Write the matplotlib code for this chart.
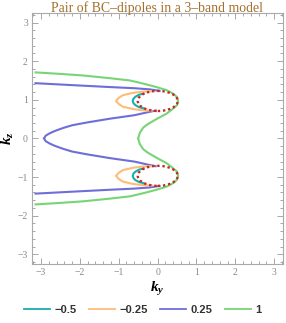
import numpy as np
import matplotlib
matplotlib.use('Agg')
import matplotlib.pyplot as plt
from matplotlib.patches import Ellipse
from matplotlib.ticker import MultipleLocator
from matplotlib.lines import Line2D

# upper half of each contour (kz >= 0); the picture is mirror symmetric in kz
green_ky = [-3.14, -2.5, -1.92, -1.23, -0.71, -0.37, -0.03, 0.23, 0.4, 0.49, 0.53,
            0.5, 0.36, 0.23, -0.03, -0.25, -0.37, -0.46, -0.5]
green_kz = [1.71, 1.67, 1.63, 1.56, 1.50, 1.42, 1.33, 1.25, 1.16, 1.08, 0.97,
            0.86, 0.74, 0.64, 0.50, 0.37, 0.28, 0.14, 0.0]

blue_outer_ky = [-3.14, -2.2, -1.23, -0.6, -0.2, 0.05]
blue_outer_kz = [1.43, 1.38, 1.33, 1.30, 1.27, 1.23]
blue_loop_ky = [-0.05, -0.2, -0.6, -1.23, -1.83, -2.2, -2.43, -2.65, -2.78, -2.88, -2.92]
blue_loop_kz = [0.72, 0.69, 0.60, 0.51, 0.41, 0.34, 0.27, 0.19, 0.13, 0.07, 0.0]

# arcs around the dipole centres, kz given as offset from the centre
dipole_kz = 0.97
cyan_ky = [-0.36, -0.48, -0.57, -0.62, -0.64, -0.62, -0.57, -0.48, -0.36]
cyan_dz = [0.19, 0.16, 0.11, 0.06, 0.0, -0.06, -0.11, -0.16, -0.19]
orange_ky = [-0.15, -0.4, -0.63, -0.89, -1.0, -1.07, -1.0, -0.89, -0.63, -0.4, -0.15]
orange_dz = [0.25, 0.24, 0.21, 0.15, 0.08, 0.0, -0.08, -0.15, -0.21, -0.24, -0.25]

ellipse_w = 1.03
ellipse_h = 0.52

labels = ['\u22120.5', '\u22120.25', '0.25', '1']
colors = ['#19aeae', '#ffbb77', '#6e6ed8', '#77d477']

plt.rcParams['mathtext.fontset'] = 'custom'
plt.rcParams['mathtext.it'] = 'Liberation Serif:bold:italic'
plt.rcParams['mathtext.rm'] = 'Liberation Serif:bold'

fig = plt.figure(figsize=(2.86, 3.23), dpi=100)
ax = fig.add_axes([0.112, 0.183, 0.878, 0.777])
lw = 1.5

for sign in (1, -1):
    ax.plot(green_ky, sign * np.array(green_kz), color=colors[3], lw=lw)
    ax.plot(blue_outer_ky, sign * np.array(blue_outer_kz), color=colors[2], lw=lw)
    ax.plot(blue_loop_ky, sign * np.array(blue_loop_kz), color=colors[2], lw=lw)
    ax.plot(orange_ky, sign * dipole_kz + np.array(orange_dz), color=colors[1], lw=lw)
    ax.plot(cyan_ky, sign * dipole_kz + np.array(cyan_dz), color=colors[0], lw=lw)
    ax.add_patch(Ellipse((0.005, sign * dipole_kz), ellipse_w, ellipse_h, fill=False,
                         edgecolor='#c62828', lw=1.7, linestyle=(0, (1, 1.2)), zorder=5))

ax.set_xlim(-3.23, 3.23)
ax.set_ylim(-3.25, 3.25)

# frame ticks like Mathematica
ax.xaxis.set_major_locator(MultipleLocator(1))
ax.yaxis.set_major_locator(MultipleLocator(1))
ax.xaxis.set_minor_locator(MultipleLocator(0.2))
ax.yaxis.set_minor_locator(MultipleLocator(0.2))
ax.tick_params(which='both', direction='in', top=True, right=True, color='#999999', width=0.6)
ax.tick_params(which='major', length=4, labelsize=7, labelcolor='#888888', pad=3)
ax.tick_params(which='minor', length=2)
for lab in ax.get_xticklabels() + ax.get_yticklabels():
    lab.set_family('Liberation Serif')
for sp in ax.spines.values():
    sp.set_color('#aaaaaa')
    sp.set_linewidth(0.8)

ax.set_xlabel(r'$k_y$', fontsize=11, labelpad=2)
ax.set_ylabel(r'$k_z$', fontsize=11, labelpad=1)
fig.text(0.55, 0.997, 'Pair of BC\u2013dipoles in a 3\u2013band model', family='Liberation Serif',
         fontsize=9.9, color='#a3702e', ha='center', va='top')

handles = [Line2D([], [], color=c, lw=1.3) for c in colors]
leg = fig.legend(handles, labels, loc='center', bbox_to_anchor=(0.5, 0.04), ncol=4,
                 frameon=False, handlelength=2.3, handletextpad=0.45, columnspacing=1.1,
                 prop={'family': 'Liberation Sans', 'weight': 'bold', 'size': 8})
for t in leg.get_texts():
    t.set_color('#333333')

fig.savefig('out.png', dpi=100)
